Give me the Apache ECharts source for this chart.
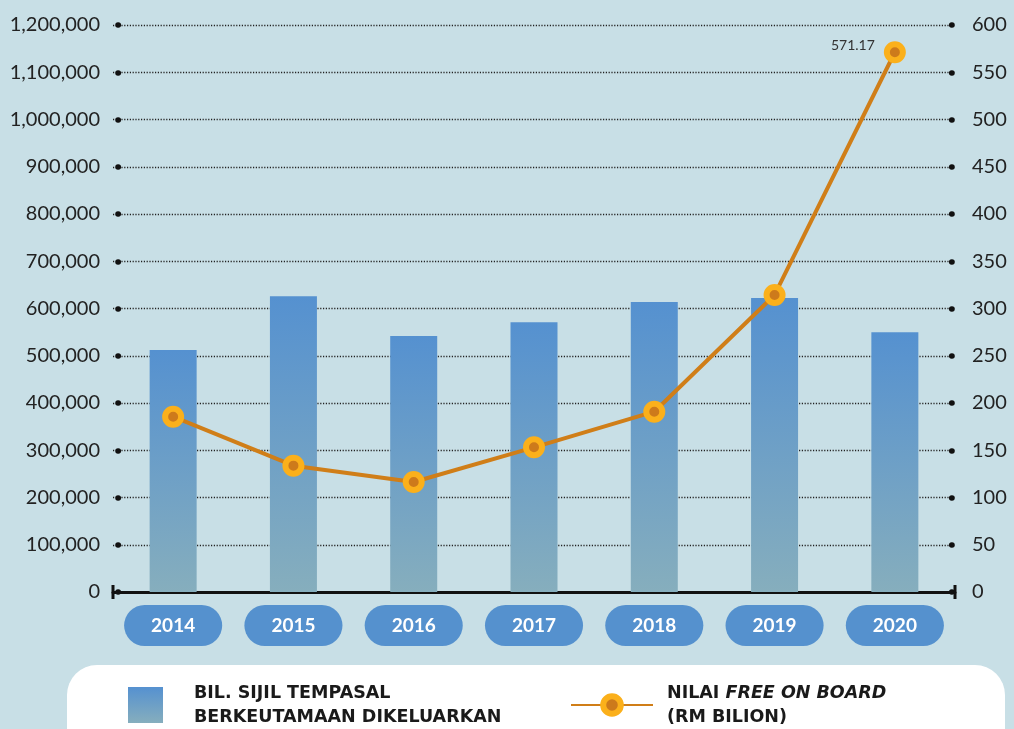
<!DOCTYPE html>
<html>
<head>
<meta charset="utf-8">
<script src="https://cdn.jsdelivr.net/npm/echarts@6/dist/echarts.min.js"></script>
<style>
html,body{margin:0;padding:0;background:#c8dfe6;}
#c{width:1014px;height:729px;}
</style>
</head>
<body>
<div id="c"></div>
<script>
const years = ['2014','2015','2016','2017','2018','2019','2020'];
const certificates = [512000, 626000, 542000, 571000, 614000, 622000, 550000];
const fobValues = [185.5, 133.7, 116.4, 153.1, 190.8, 314.3, 571.17];
const leftAxis = {min: 0, max: 1200000, interval: 100000};
const rightAxis = {min: 0, max: 600, interval: 50};
const barName = 'BIL. SIJIL TEMPASAL\nBERKEUTAMAAN DIKELUARKAN';
const lineName = 'NILAI FREE ON BOARD (RM BILION)';

const chart = echarts.init(document.getElementById('c'));
const tickFont = 'Lato';
const legendFont = 'DejaVu Sans';
const dotTick = {show: true, inside: true, length: 0.3, lineStyle: {color: '#111', width: 5.5, cap: 'round'}};

const fobData = fobValues.map((v, i) => i === fobValues.length - 1 ? {
  value: v,
  label: {show: true, position: 'left', distance: 9, offset: [0, -7], formatter: '{c}', fontSize: 14, fontFamily: tickFont, color: '#333'}
} : v);

const legendText = {fontFamily: legendFont, fontWeight: 'bold', fontSize: 17.5, color: '#1a1a1a', lineHeight: 24};

chart.setOption({
  backgroundColor: '#c8dfe6',
  animation: false,
  grid: {left: 113, width: 842, top: 25, bottom: 137, containLabel: false},
  graphic: [{
    type: 'rect', left: 67, top: 665, z: -1,
    shape: {width: 938, height: 110, r: 30},
    style: {fill: '#ffffff'}
  }],
  legend: [{
    data: [{name: barName, icon: 'rect'}], left: 128, top: 681, padding: 0, itemWidth: 35, itemHeight: 36, itemGap: 0,
    selectedMode: false,
    textStyle: Object.assign({}, legendText, {padding: [0, 0, 0, 26]})
  }, {
    data: [{name: lineName, itemStyle: {borderWidth: 6}}], left: 570, top: 681, padding: 0, itemWidth: 82, itemHeight: 22, itemGap: 0,
    selectedMode: false,
    formatter: () => '{a|NILAI }{b|FREE ON BOARD}\n{a|(RM BILION)}',
    textStyle: Object.assign({}, legendText, {
      padding: [0, 0, 0, 9],
      rich: {
        a: Object.assign({}, legendText),
        b: Object.assign({}, legendText, {fontStyle: 'italic'})
      }
    })
  }],
  xAxis: {
    type: 'category', data: years,
    axisLine: {show: true, lineStyle: {color: '#111', width: 3}, symbol: ['rect', 'rect'], symbolSize: [14, 3]},
    axisTick: {show: false},
    axisLabel: {
      interval: 0, margin: 13, color: '#fff', fontFamily: tickFont, fontWeight: 'bold', fontSize: 19,
      lineHeight: 19, backgroundColor: '#5591ce', borderRadius: 21, padding: [11, 27]
    }
  },
  yAxis: [{
    type: 'value', min: leftAxis.min, max: leftAxis.max, interval: leftAxis.interval,
    offset: -5,
    axisLine: {show: false},
    axisTick: dotTick,
    splitLine: {show: true, lineStyle: {color: '#222', width: 1.3, type: [1.2, 1.6]}},
    axisLabel: {margin: 18, fontFamily: tickFont, fontSize: 20, color: '#222',
      formatter: v => v.toLocaleString('en-US')}
  }, {
    type: 'value', min: rightAxis.min, max: rightAxis.max, interval: rightAxis.interval,
    offset: -3, position: 'right',
    axisLine: {show: false},
    axisTick: dotTick,
    splitLine: {show: false},
    axisLabel: {margin: 20, fontFamily: tickFont, fontSize: 20, color: '#222'}
  }],
  series: [{
    name: barName, type: 'bar', data: certificates, barWidth: 47, yAxisIndex: 0,
    itemStyle: {color: new echarts.graphic.LinearGradient(0, 0, 0, 1, [
      {offset: 0, color: '#5591d0'}, {offset: 1, color: '#86aebd'}
    ])}
  }, {
    name: lineName, type: 'line', data: fobData, yAxisIndex: 1, z: 5,
    symbol: 'circle', symbolSize: 16,
    lineStyle: {color: '#d07e18', width: 4},
    itemStyle: {color: '#cd7a1b', borderColor: '#fbb01b', borderWidth: 6}
  }]
});
</script>
</body>
</html>
